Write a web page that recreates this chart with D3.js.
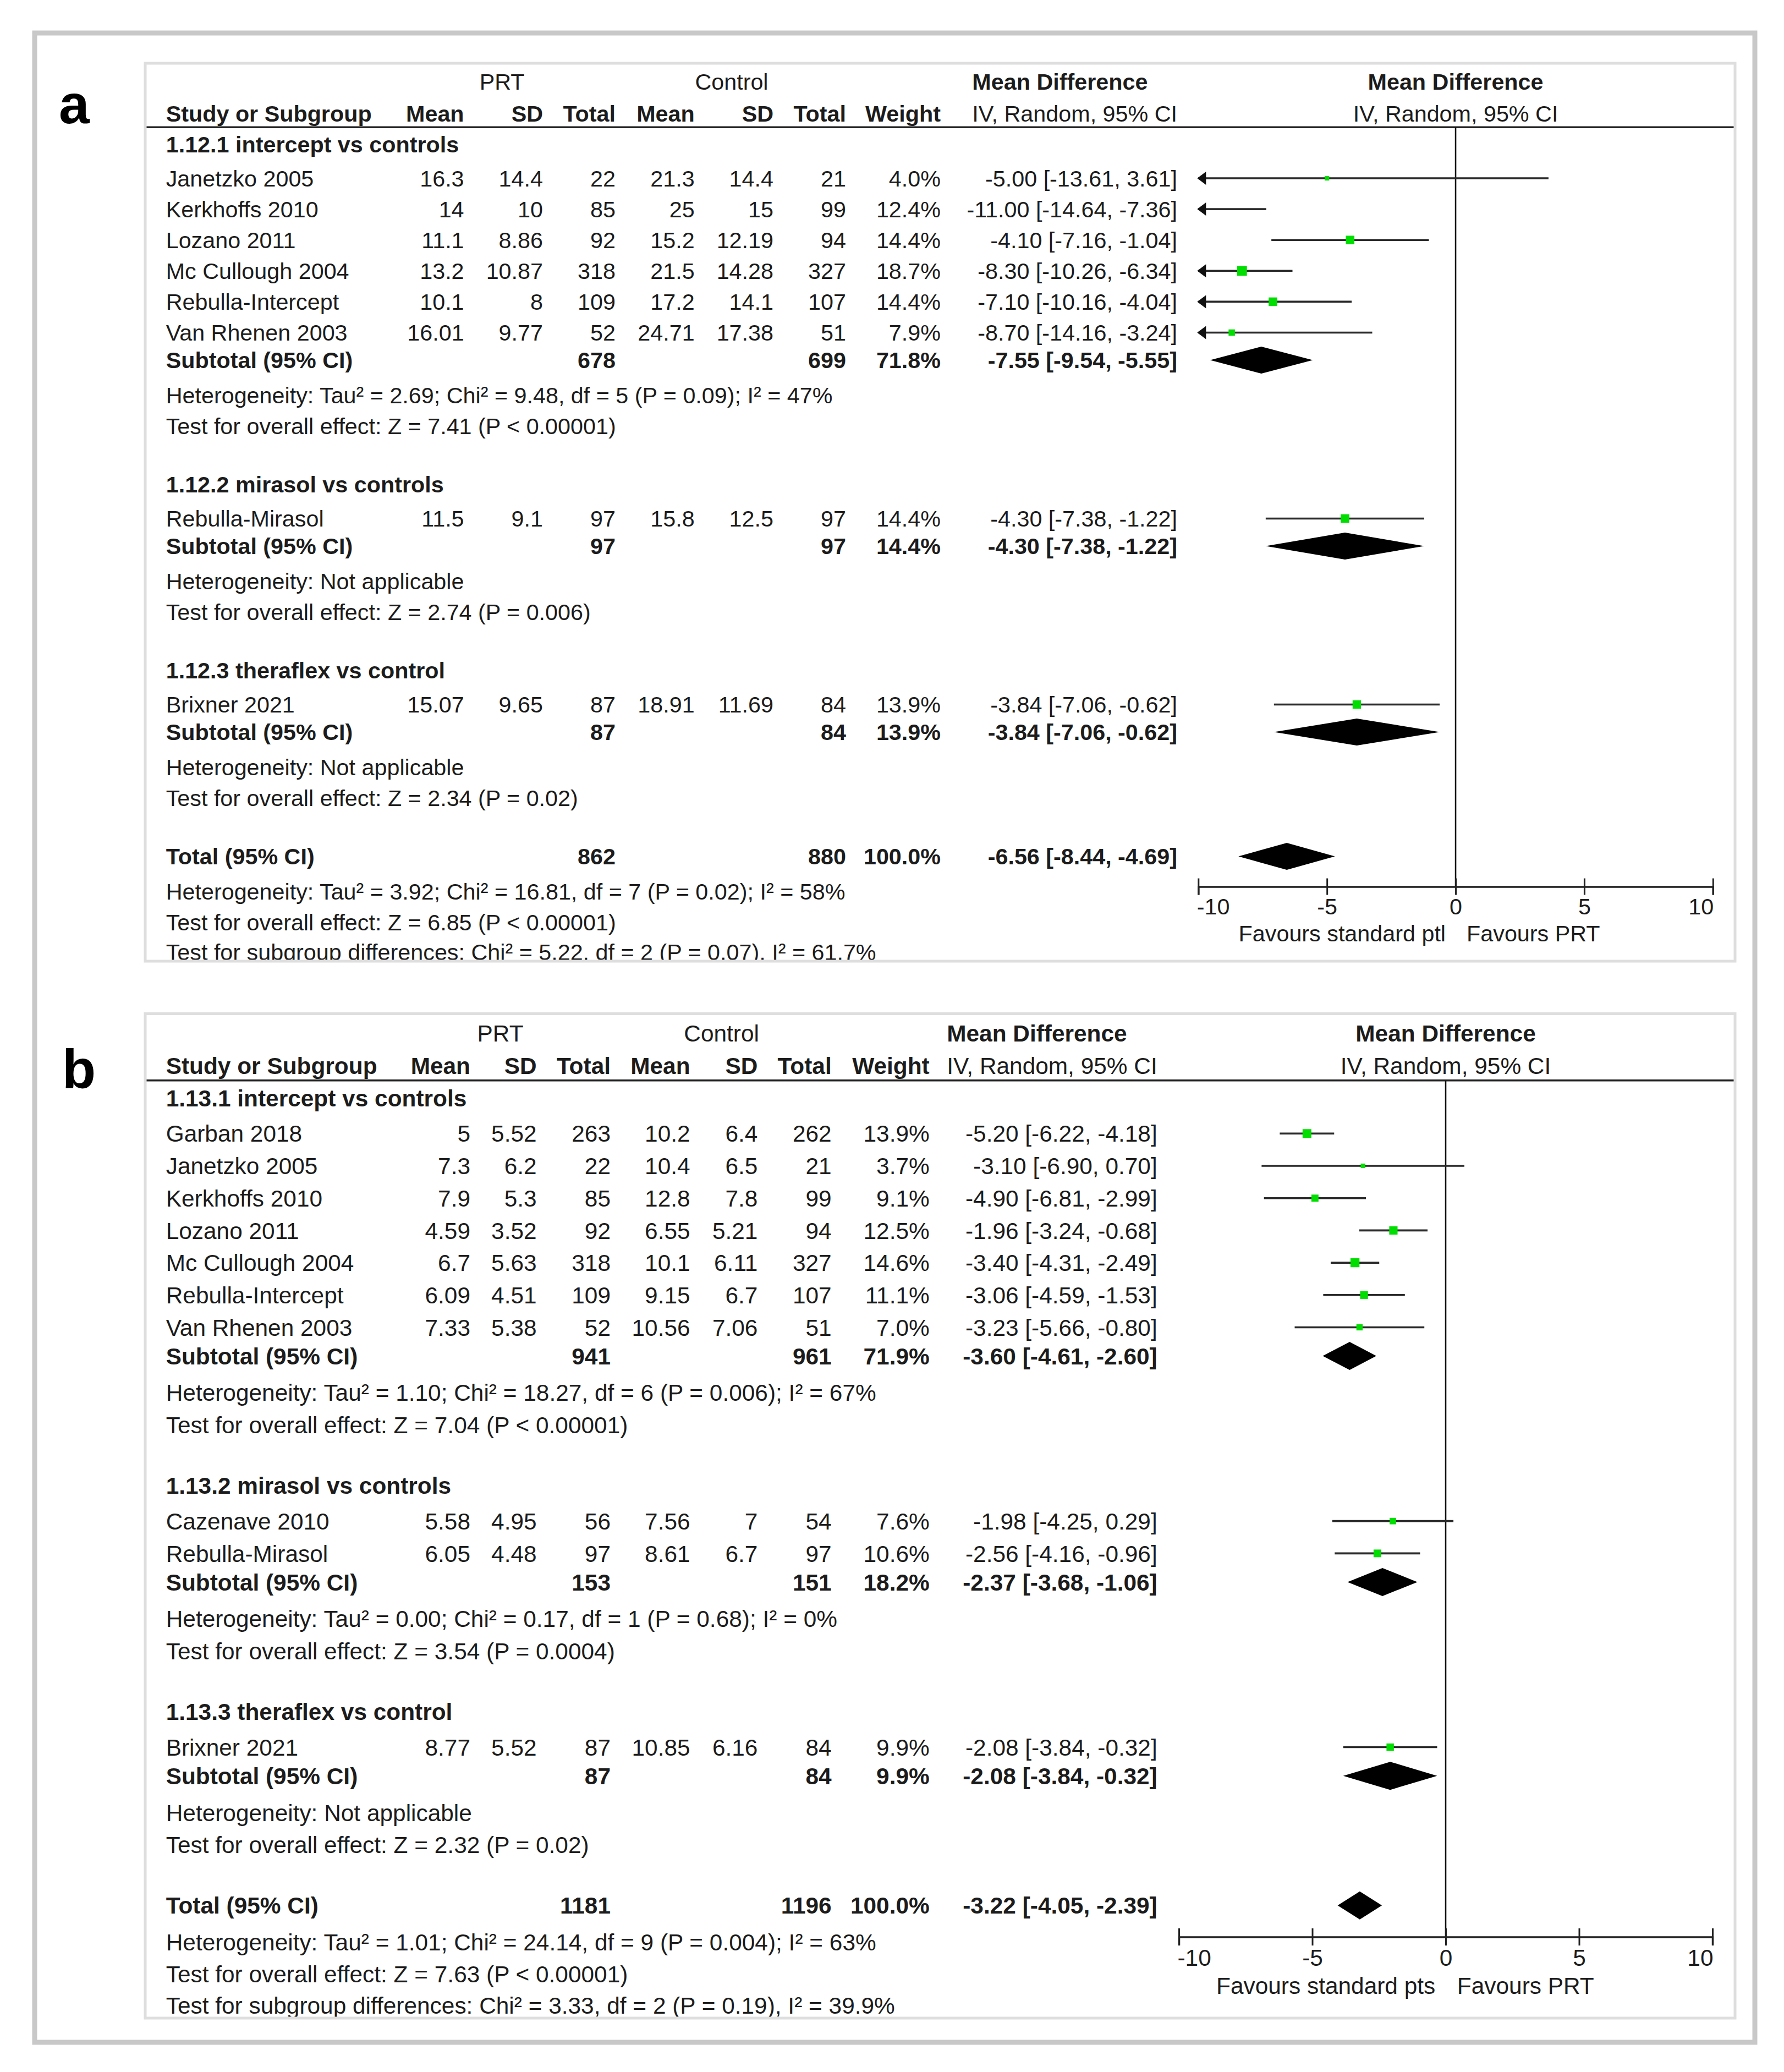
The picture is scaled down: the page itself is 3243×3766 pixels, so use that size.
<!DOCTYPE html>
<html><head><meta charset="utf-8">
<script src="https://cdn.jsdelivr.net/npm/d3@7"></script>
<style>body{margin:0;background:#fff}</style>
</head><body><svg id="chart"></svg>
<script>
// ---------------- DATA ----------------
// Panel a
const studiesA = [
  {group:0, name:"Janetzko 2005",     m1:16.3,  sd1:14.4,  n1:22,  m2:21.3,  sd2:14.4,  n2:21,  w:4.0,  md:-5.00,  lo:-13.61, hi:3.61},
  {group:0, name:"Kerkhoffs 2010",    m1:14,    sd1:10,    n1:85,  m2:25,    sd2:15,    n2:99,  w:12.4, md:-11.00, lo:-14.64, hi:-7.36},
  {group:0, name:"Lozano 2011",       m1:11.1,  sd1:8.86,  n1:92,  m2:15.2,  sd2:12.19, n2:94,  w:14.4, md:-4.10,  lo:-7.16,  hi:-1.04},
  {group:0, name:"Mc Cullough 2004",  m1:13.2,  sd1:10.87, n1:318, m2:21.5,  sd2:14.28, n2:327, w:18.7, md:-8.30,  lo:-10.26, hi:-6.34},
  {group:0, name:"Rebulla-Intercept", m1:10.1,  sd1:8,     n1:109, m2:17.2,  sd2:14.1,  n2:107, w:14.4, md:-7.10,  lo:-10.16, hi:-4.04},
  {group:0, name:"Van Rhenen 2003",   m1:16.01, sd1:9.77,  n1:52,  m2:24.71, sd2:17.38, n2:51,  w:7.9,  md:-8.70,  lo:-14.16, hi:-3.24},
  {group:1, name:"Rebulla-Mirasol",   m1:11.5,  sd1:9.1,   n1:97,  m2:15.8,  sd2:12.5,  n2:97,  w:14.4, md:-4.30,  lo:-7.38,  hi:-1.22},
  {group:2, name:"Brixner 2021",      m1:15.07, sd1:9.65,  n1:87,  m2:18.91, sd2:11.69, n2:84,  w:13.9, md:-3.84,  lo:-7.06,  hi:-0.62}
];
const subgroupsA = [
  {title:"1.12.1 intercept vs controls", n1:678, n2:699, w:71.8, md:-7.55, lo:-9.54, hi:-5.55,
   het:"Heterogeneity: Tau\u00b2 = 2.69; Chi\u00b2 = 9.48, df = 5 (P = 0.09); I\u00b2 = 47%",
   test:"Test for overall effect: Z = 7.41 (P < 0.00001)"},
  {title:"1.12.2 mirasol vs controls", n1:97, n2:97, w:14.4, md:-4.30, lo:-7.38, hi:-1.22,
   het:"Heterogeneity: Not applicable",
   test:"Test for overall effect: Z = 2.74 (P = 0.006)"},
  {title:"1.12.3 theraflex vs control", n1:87, n2:84, w:13.9, md:-3.84, lo:-7.06, hi:-0.62,
   het:"Heterogeneity: Not applicable",
   test:"Test for overall effect: Z = 2.34 (P = 0.02)"}
];
const overallA = {n1:862, n2:880, w:100.0, md:-6.56, lo:-8.44, hi:-4.69,
  het:"Heterogeneity: Tau\u00b2 = 3.92; Chi\u00b2 = 16.81, df = 7 (P = 0.02); I\u00b2 = 58%",
  test:"Test for overall effect: Z = 6.85 (P < 0.00001)",
  sub:"Test for subgroup differences: Chi\u00b2 = 5.22, df = 2 (P = 0.07), I\u00b2 = 61.7%"};
const favoursA = ["Favours standard ptl", "Favours PRT"];

// Panel b
const studiesB = [
  {group:0, name:"Garban 2018",       m1:5,    sd1:5.52, n1:263, m2:10.2,  sd2:6.4,  n2:262, w:13.9, md:-5.20, lo:-6.22, hi:-4.18},
  {group:0, name:"Janetzko 2005",     m1:7.3,  sd1:6.2,  n1:22,  m2:10.4,  sd2:6.5,  n2:21,  w:3.7,  md:-3.10, lo:-6.90, hi:0.70},
  {group:0, name:"Kerkhoffs 2010",    m1:7.9,  sd1:5.3,  n1:85,  m2:12.8,  sd2:7.8,  n2:99,  w:9.1,  md:-4.90, lo:-6.81, hi:-2.99},
  {group:0, name:"Lozano 2011",       m1:4.59, sd1:3.52, n1:92,  m2:6.55,  sd2:5.21, n2:94,  w:12.5, md:-1.96, lo:-3.24, hi:-0.68},
  {group:0, name:"Mc Cullough 2004",  m1:6.7,  sd1:5.63, n1:318, m2:10.1,  sd2:6.11, n2:327, w:14.6, md:-3.40, lo:-4.31, hi:-2.49},
  {group:0, name:"Rebulla-Intercept", m1:6.09, sd1:4.51, n1:109, m2:9.15,  sd2:6.7,  n2:107, w:11.1, md:-3.06, lo:-4.59, hi:-1.53},
  {group:0, name:"Van Rhenen 2003",   m1:7.33, sd1:5.38, n1:52,  m2:10.56, sd2:7.06, n2:51,  w:7.0,  md:-3.23, lo:-5.66, hi:-0.80},
  {group:1, name:"Cazenave 2010",     m1:5.58, sd1:4.95, n1:56,  m2:7.56,  sd2:7,    n2:54,  w:7.6,  md:-1.98, lo:-4.25, hi:0.29},
  {group:1, name:"Rebulla-Mirasol",   m1:6.05, sd1:4.48, n1:97,  m2:8.61,  sd2:6.7,  n2:97,  w:10.6, md:-2.56, lo:-4.16, hi:-0.96},
  {group:2, name:"Brixner 2021",      m1:8.77, sd1:5.52, n1:87,  m2:10.85, sd2:6.16, n2:84,  w:9.9,  md:-2.08, lo:-3.84, hi:-0.32}
];
const subgroupsB = [
  {title:"1.13.1 intercept vs controls", n1:941, n2:961, w:71.9, md:-3.60, lo:-4.61, hi:-2.60,
   het:"Heterogeneity: Tau\u00b2 = 1.10; Chi\u00b2 = 18.27, df = 6 (P = 0.006); I\u00b2 = 67%",
   test:"Test for overall effect: Z = 7.04 (P < 0.00001)"},
  {title:"1.13.2 mirasol vs controls", n1:153, n2:151, w:18.2, md:-2.37, lo:-3.68, hi:-1.06,
   het:"Heterogeneity: Tau\u00b2 = 0.00; Chi\u00b2 = 0.17, df = 1 (P = 0.68); I\u00b2 = 0%",
   test:"Test for overall effect: Z = 3.54 (P = 0.0004)"},
  {title:"1.13.3 theraflex vs control", n1:87, n2:84, w:9.9, md:-2.08, lo:-3.84, hi:-0.32,
   het:"Heterogeneity: Not applicable",
   test:"Test for overall effect: Z = 2.32 (P = 0.02)"}
];
const overallB = {n1:1181, n2:1196, w:100.0, md:-3.22, lo:-4.05, hi:-2.39,
  het:"Heterogeneity: Tau\u00b2 = 1.01; Chi\u00b2 = 24.14, df = 9 (P = 0.004); I\u00b2 = 63%",
  test:"Test for overall effect: Z = 7.63 (P < 0.00001)",
  sub:"Test for subgroup differences: Chi\u00b2 = 3.33, df = 2 (P = 0.19), I\u00b2 = 39.9%"};
const favoursB = ["Favours standard pts", "Favours PRT"];

const axisTicks = [-10, -5, 0, 5, 10];
const headerGroups = ["PRT", "Control"];
const headerCols = ["Mean", "SD", "Total", "Mean", "SD", "Total", "Weight"];

// ---------------- LAYOUT ----------------
const W = 3243, H = 3766;
const FONT = "Arial, 'Liberation Sans', Helvetica, sans-serif";
const TXT = "#1c1c1c";

const layoutA = {letter:"a", letterX:107, letterY:224, top:115, bottom:1747, left:264, right:3154,
  fs:41.3, k:1, rowH:56.1,
  cols:{label:301.7, m1:843.6, sd1:987, n1:1119, m2:1262.7, sd2:1406, n2:1538, w:1710, ci:2140},
  prtC:912.6, ctlC:1330, x0:2178.3, x1:3113.8};
const layoutB = {letter:"b", letterX:113, letterY:1978, top:1842.5, bottom:3668, left:264, right:3154,
  fs:42.4, k:1.042, rowH:58.7,
  cols:{label:301.7, m1:855, sd1:975.6, n1:1110, m2:1254.6, sd2:1377.4, n2:1511.7, w:1689.7, ci:2103.7},
  prtC:909.6, ctlC:1311.6, x0:2143, x1:3113};

const svg = d3.select("#chart").attr("width", W).attr("height", H)
  .style("font-family", FONT);
svg.append("rect").attr("width", W).attr("height", H).attr("fill", "#fff");
svg.append("rect").attr("x", 63).attr("y", 60).attr("width", 3127).attr("height", 3652)
  .attr("fill", "none").attr("stroke", "#c8c8c8").attr("stroke-width", 9);

const fmtW = w => w.toFixed(1) + "%";
const fmtCI = d => `${d.md.toFixed(2)} [${d.lo.toFixed(2)}, ${d.hi.toFixed(2)}]`;

function drawPanel(L, studies, subgroups, overall, favours) {
  const k = L.k, fs = L.fs;
  const clipId = "clip" + L.letter;
  svg.append("clipPath").attr("id", clipId).append("rect")
    .attr("x", L.left).attr("y", L.top).attr("width", L.right - L.left).attr("height", L.bottom - L.top);
  const c = svg.append("g").attr("clip-path", `url(#${clipId})`);
  const x = d3.scaleLinear().domain([-10, 10]).range([L.x0, L.x1]);
  const dom = x.domain();

  const text = (str, xx, yy, anchor, bold) => c.append("text")
    .attr("x", xx).attr("y", yy + 0.358 * fs).attr("text-anchor", anchor)
    .attr("font-size", fs).attr("font-weight", bold ? "bold" : "normal")
    .attr("fill", TXT).text(str);

  // header
  const h1 = L.top + 33.7 * k, h2 = L.top + 90.8 * k, hl = L.top + 116.3 * k;
  text(headerGroups[0], L.prtC, h1, "middle", false);
  text(headerGroups[1], L.ctlC, h1, "middle", false);
  const iv = text("IV, Random, 95% CI", L.cols.ci, h2, "end", false);
  const ivLeft = L.cols.ci - iv.node().getComputedTextLength();
  text("Mean Difference", ivLeft, h1, "start", true);
  text("Mean Difference", x(0), h1, "middle", true);
  text("IV, Random, 95% CI", x(0), h2, "middle", false);
  text("Study or Subgroup", L.cols.label, h2, "start", true);
  const keys = ["m1", "sd1", "n1", "m2", "sd2", "n2", "w"];
  headerCols.forEach((t, i) => text(t, L.cols[keys[i]], h2, "end", true));
  c.append("line").attr("x1", L.left).attr("x2", L.right).attr("y1", hl).attr("y2", hl)
    .attr("stroke", "#222").attr("stroke-width", 3.5);

  // rows
  const rows = [];
  let y = L.top + 147 * k;
  subgroups.forEach((sg, gi) => {
    rows.push({type: "title", y, d: sg});
    y += 62 * k;
    const ss = studies.filter(s => s.group === gi);
    ss.forEach((s, i) => { rows.push({type: "study", y, d: s}); if (i < ss.length - 1) y += L.rowH; });
    y += 50 * k; rows.push({type: "subtotal", y, d: sg});
    y += 64 * k; rows.push({type: "note", y, d: sg.het});
    y += 56 * k; rows.push({type: "note", y, d: sg.test});
    y += 106 * k;
  });
  const totalY = y;
  rows.push({type: "total", y, d: overall});
  y += 64 * k; rows.push({type: "note", y, d: overall.het});
  y += 56 * k; rows.push({type: "note", y, d: overall.test});
  y += 54 * k; rows.push({type: "note", y, d: overall.sub});

  const axisY = totalY + 55 * k;
  // zero line
  c.append("line").attr("x1", x(0)).attr("x2", x(0)).attr("y1", hl).attr("y2", axisY)
    .attr("stroke", "#111").attr("stroke-width", 2.6);

  const hh = 24.5 * k;
  const diamond = (d, yy) => c.append("path")
    .attr("d", `M${x(d.lo)},${yy} L${x(d.md)},${yy - hh} L${x(d.hi)},${yy} L${x(d.md)},${yy + hh} Z`)
    .attr("fill", "#000");

  rows.forEach(r => {
    const d = r.d;
    if (r.type === "title") {
      text(d.title, L.cols.label, r.y, "start", true);
    } else if (r.type === "note") {
      text(d, L.cols.label, r.y, "start", false);
    } else if (r.type === "study") {
      text(d.name, L.cols.label, r.y, "start", false);
      keys.slice(0, 6).forEach(kk => text(String(d[kk]), L.cols[kk], r.y, "end", false));
      text(fmtW(d.w), L.cols.w, r.y, "end", false);
      text(fmtCI(d), L.cols.ci, r.y, "end", false);
      const lo = Math.max(d.lo, dom[0]), hi = Math.min(d.hi, dom[1]);
      c.append("line").attr("x1", x(lo)).attr("x2", x(hi)).attr("y1", r.y).attr("y2", r.y)
        .attr("stroke", "#2a2a2a").attr("stroke-width", 3.6);
      if (d.lo < dom[0]) {
        const ax = x(dom[0]);
        c.append("path").attr("d", `M${ax - 2},${r.y} L${ax + 14 * k},${r.y - 12 * k} L${ax + 14 * k},${r.y + 12 * k} Z`)
          .attr("fill", "#111");
      }
      if (d.hi > dom[1]) {
        const ax = x(dom[1]);
        c.append("path").attr("d", `M${ax + 2},${r.y} L${ax - 14 * k},${r.y - 12 * k} L${ax - 14 * k},${r.y + 12 * k} Z`)
          .attr("fill", "#111");
      }
      if (d.md >= dom[0] && d.md <= dom[1]) {
        const side = 4.1 * Math.sqrt(d.w) * k;
        c.append("rect").attr("x", x(d.md) - side / 2).attr("y", r.y - side / 2)
          .attr("width", side).attr("height", side).attr("fill", "#00dd00");
      }
    } else if (r.type === "subtotal" || r.type === "total") {
      text(r.type === "subtotal" ? "Subtotal (95% CI)" : "Total (95% CI)", L.cols.label, r.y, "start", true);
      text(String(d.n1), L.cols.n1, r.y, "end", true);
      text(String(d.n2), L.cols.n2, r.y, "end", true);
      text(fmtW(d.w), L.cols.w, r.y, "end", true);
      text(fmtCI(d), L.cols.ci, r.y, "end", true);
      diamond(d, r.y);
    }
  });

  // axis
  const axis = d3.axisBottom(x).tickValues(axisTicks).tickSizeOuter(0).tickSize(15 * k)
    .tickFormat(v => String(v));
  const ag = c.append("g").attr("transform", `translate(0,${axisY})`).call(axis);
  ag.attr("font-family", null).attr("font-size", fs);
  ag.select(".domain").attr("stroke", "#222").attr("stroke-width", 3.5);
  ag.selectAll(".tick line").attr("y1", -15 * k).attr("y2", 15 * k)
    .attr("stroke", "#222").attr("stroke-width", 3);
  ag.selectAll(".tick text").attr("dy", null).attr("y", 36 * k + 0.358 * fs)
    .attr("fill", TXT).attr("font-size", fs)
    .attr("text-anchor", (v, i) => i === 0 ? "start" : (i === axisTicks.length - 1 ? "end" : "middle"))
    .attr("dx", (v, i) => i === 0 ? -3 : (i === axisTicks.length - 1 ? 1 : 0));
  text(favours[0], x(0) - 18 * k, axisY + 85 * k, "end", false);
  text(favours[1], x(0) + 20 * k, axisY + 85 * k, "start", false);

  // box border
  svg.append("rect").attr("x", L.left).attr("y", L.top).attr("width", L.right - L.left)
    .attr("height", L.bottom - L.top).attr("fill", "none").attr("stroke", "#dedede").attr("stroke-width", 5);
  // panel letter
  svg.append("text").attr("x", L.letterX).attr("y", L.letterY).attr("font-size", 100)
    .attr("font-weight", "bold").attr("fill", "#000").text(L.letter);
}

drawPanel(layoutA, studiesA, subgroupsA, overallA, favoursA);
drawPanel(layoutB, studiesB, subgroupsB, overallB, favoursB);
</script>
</body></html>
